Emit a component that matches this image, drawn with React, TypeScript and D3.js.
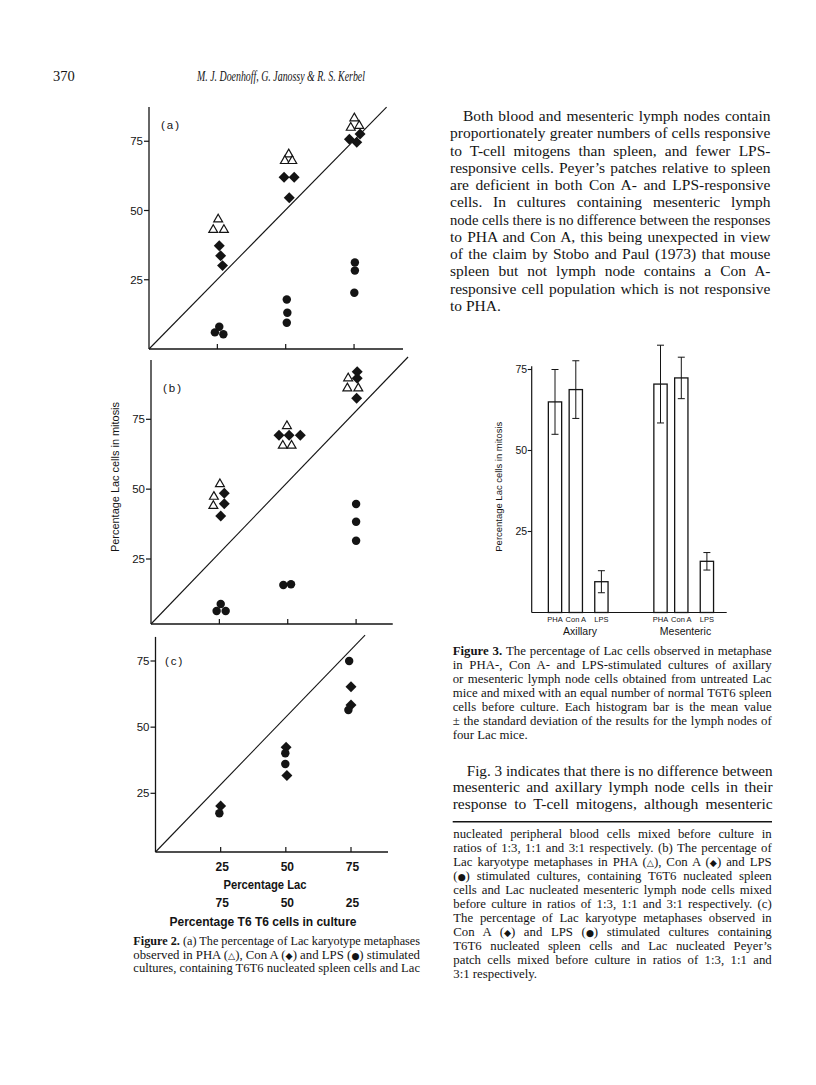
import React, { useLayoutEffect, useRef } from 'react';
import * as d3 from 'd3';

type Pt = [number, number];

// ---------------- Figure 2 data (x = percentage Lac, y = % Lac cells in mitosis)
const lacLevels = [25, 50, 75];
const t6Levels = [75, 50, 25];
const fig2YTicks = [25, 50, 75];

const aPHA: Pt[] = [[25.3, 46.8], [23.5, 43], [27.4, 43], [51.1, 70.3], [49.7, 67.9], [52.4, 67.9], [75.1, 83.3], [73.8, 79.9], [76.9, 80.6]];
const aConA: Pt[] = [[25.7, 37.3], [26.2, 33.7], [26.9, 30.1], [49.4, 62], [53.1, 62], [51.3, 54.6], [73.3, 75.7], [76, 74.6], [77.2, 77.6]];
const aLPS: Pt[] = [[24.1, 6], [25.7, 8], [27.2, 5.3], [50.4, 17.9], [50.6, 13.1], [50.4, 9.5], [75.3, 31.2], [75.3, 28.3], [75.1, 20.3]];

const bPHA: Pt[] = [[25.2, 51.8], [23, 47.3], [22.8, 44], [49.7, 72.6], [48.2, 65.6], [51.4, 65.6], [72.1, 89.7], [71.8, 86.1], [75.8, 86.1]];
const bConA: Pt[] = [[26.8, 48.5], [26.8, 44.8], [25.5, 40.4], [46.8, 69.3], [50.5, 69.3], [54.6, 69.3], [75.4, 92], [75.4, 89.7], [75.2, 82.5]];
const bLPS: Pt[] = [[25.5, 7.7], [24, 5], [27.3, 5], [48.4, 15], [51.2, 15.3], [75, 44.7], [75, 38.3], [75, 31.5]];

const cPHA: Pt[] = [];
const cConA: Pt[] = [[25, 19.6], [50.1, 42.4], [50.4, 31.7], [75, 65.3], [75, 58.4]];
const cLPS: Pt[] = [[24.5, 16.5], [49.8, 40.1], [49.8, 36.1], [74.3, 75], [74, 56.5]];

const panelLabels = ['(a)', '(b)', '(c)'];
const diagonalEnds: Pt[] = [[86.9, 87.3], [94, 97.3], [80.4, 84.8]];
const axisMaxX = [92.9, 88.4, 89.2];
const axisMaxY = [87.4, 96.2, 84.1];

// ---------------- Figure 3 data
const fig3Groups = ['Axillary', 'Mesenteric'];
const fig3Cats = ['PHA', 'Con A', 'LPS'];
const axillaryMean = [65, 68.8, 9.5];
const axillarySD = [10, 8.9, 3.4];
const mesentericMean = [70.5, 72.4, 15.8];
const mesentericSD = [12, 6.4, 2.7];
const fig3YTicks = [25, 50, 75];

// ---------------- text
const para1 = [
  'Both blood and mesenteric lymph nodes contain',
  'proportionately greater numbers of cells responsive',
  'to T-cell mitogens than spleen, and fewer LPS-',
  'responsive cells. Peyer\u2019s patches relative to spleen',
  'are deficient in both Con A- and LPS-responsive',
  'cells. In cultures containing mesenteric lymph',
  'node cells there is no difference between the responses',
  'to PHA and Con A, this being unexpected in view',
  'of the claim by Stobo and Paul (1973) that mouse',
  'spleen but not lymph node contains a Con A-',
  'responsive cell population which is not responsive',
  'to PHA.',
];
const fig3Caption = [
  'The percentage of Lac cells observed in metaphase',
  'in PHA-, Con A- and LPS-stimulated cultures of axillary',
  'or mesenteric lymph node cells obtained from untreated Lac',
  'mice and mixed with an equal number of normal T6T6 spleen',
  'cells before culture. Each histogram bar is the mean value',
  '\u00b1 the standard deviation of the results for the lymph nodes of',
  'four Lac mice.',
];
const para2 = [
  'Fig. 3 indicates that there is no difference between',
  'mesenteric and axillary lymph node cells in their',
  'response to T-cell mitogens, although mesenteric',
];
const TRI = '\u25b3';
const DIA = '\u25c6';
const DOT = '\u25cf';
const fig2CaptionA = [
  '(a) The percentage of Lac karyotype metaphases',
  `observed in PHA (${TRI}), Con A (${DIA}) and LPS (${DOT}) stimulated`,
  'cultures, containing T6T6 nucleated spleen cells and Lac',
];
const fig2CaptionB = [
  'nucleated peripheral blood cells mixed before culture in',
  'ratios of 1:3, 1:1 and 3:1 respectively. (b) The percentage of',
  `Lac karyotype metaphases in PHA (${TRI}), Con A (${DIA}) and LPS`,
  `(${DOT}) stimulated cultures, containing T6T6 nucleated spleen`,
  'cells and Lac nucleated mesenteric lymph node cells mixed',
  'before culture in ratios of 1:3, 1:1 and 3:1 respectively. (c)',
  'The percentage of Lac karyotype metaphases observed in',
  `Con A (${DIA}) and LPS (${DOT}) stimulated cultures containing`,
  'T6T6 nucleated spleen cells and Lac nucleated Peyer\u2019s',
  'patch cells mixed before culture in ratios of 1:3, 1:1 and',
  '3:1 respectively.',
];

// ---------------- layout
const SERIF = '"Liberation Serif", "Times New Roman", serif';
const SANS = '"Liberation Sans", Arial, sans-serif';
const INK = '#141414';
const BODY = 15.5;
const CAP = 12.8;

const panelLayout = [
  { xRange: [149, 354.05], yDomain: [0, 75], yRange: [349, 141.25], labelX: 161, labelY: 129 },
  { xRange: [151, 356.1], yDomain: [0, 25, 75], yRange: [624, 559, 419.3], labelX: 163, labelY: 392 },
  { xRange: [155.5, 351], yDomain: [0, 25, 75], yRange: [852, 793.3, 661], labelX: 165, labelY: 665 },
];

const triPath = d3.symbol(d3.symbolTriangle, 34)() as string;
const diaPath = d3.symbol(d3.symbolSquare, 60)() as string;
const dotPath = d3.symbol(d3.symbolCircle, 56)() as string;

function renderSyms(s: string, size: number) {
  const parts = s.split(/([\u25b3\u25c6\u25cf])/);
  return parts.map((p, i) =>
    p === TRI || p === DIA || p === DOT ? (
      <tspan key={i} fontFamily='"DejaVu Sans", sans-serif' fontSize={size * 0.72}>{p}</tspan>
    ) : (
      <tspan key={i}>{p}</tspan>
    )
  );
}

// justified line: word-spacing is computed after layout
function TLine(props: { x: number; y: number; w?: number; size: number; text: string; bold?: string }) {
  const { x, y, w, size, text, bold } = props;
  return (
    <text x={x} y={y} fontFamily={SERIF} fontSize={size} fill={INK} data-w={w ? String(w) : undefined}>
      {bold ? <tspan fontWeight="bold">{bold} </tspan> : null}
      {renderSyms(text, size)}
    </text>
  );
}

function Panel({ i, pha, conA, lps }: { i: number; pha: Pt[]; conA: Pt[]; lps: Pt[] }) {
  const L = panelLayout[i];
  const x = d3.scaleLinear().domain([0, 75]).range(L.xRange);
  const y = d3.scaleLinear().domain(L.yDomain).range(L.yRange);
  const x0 = x(0);
  const y0 = y(0);
  const diag = d3.line<Pt>().x((d) => x(d[0])).y((d) => y(d[1]))([[0, 0], diagonalEnds[i]]) as string;
  return (
    <g>
      <line x1={x0} x2={x0} y1={y0} y2={y(axisMaxY[i])} stroke={INK} strokeWidth={1.3} />
      <line x1={x0} x2={x(axisMaxX[i])} y1={y0} y2={y0} stroke={INK} strokeWidth={1.3} />
      {fig2YTicks.map((t) => (
        <g key={'y' + t}>
          <line x1={x0 - 5} x2={x0} y1={y(t)} y2={y(t)} stroke={INK} strokeWidth={1.2} />
          <text x={x0 - 6} y={y(t) + 4} textAnchor="end" fontFamily={SANS} fontSize={11.5} fill={INK}>{t}</text>
        </g>
      ))}
      {lacLevels.map((t) => (
        <line key={'x' + t} x1={x(t)} x2={x(t)} y1={y0} y2={y0 - 5} stroke={INK} strokeWidth={1.2} />
      ))}
      <path d={diag} stroke={INK} strokeWidth={1.1} fill="none" />
      <text x={L.labelX} y={L.labelY} fontFamily={SANS} fontSize={11.5} letterSpacing={2} fill={INK}>{panelLabels[i]}</text>
      {pha.map((d, k) => (
        <path key={'t' + k} d={triPath} transform={`translate(${x(d[0])},${y(d[1])})`} fill="#fff" stroke={INK} strokeWidth={1.2} />
      ))}
      {conA.map((d, k) => (
        <path key={'d' + k} d={diaPath} transform={`translate(${x(d[0])},${y(d[1])}) rotate(45)`} fill={INK} />
      ))}
      {lps.map((d, k) => (
        <path key={'c' + k} d={dotPath} transform={`translate(${x(d[0])},${y(d[1])})`} fill={INK} />
      ))}
    </g>
  );
}

function BarChart() {
  const by = d3.scaleLinear().domain([0, 75]).range([612.5, 369.5]);
  const gx = d3.scaleBand().domain(fig3Groups).range([540, 751]);
  const ix = d3.scaleOrdinal<string, number>().domain(fig3Cats).range([15, 35.8, 61.4]);
  const means = [axillaryMean, mesentericMean];
  const sds = [axillarySD, mesentericSD];
  const axX = 531.7;
  const bw = 13.3;
  return (
    <g>
      <line x1={axX} x2={axX} y1={by(0)} y2={by(76)} stroke={INK} strokeWidth={1.2} />
      <line x1={axX} x2={726.7} y1={by(0)} y2={by(0)} stroke={INK} strokeWidth={1.2} />
      {fig3YTicks.map((t) => (
        <g key={t}>
          <line x1={axX - 4} x2={axX} y1={by(t)} y2={by(t)} stroke={INK} strokeWidth={1.1} />
          <text x={axX - 4.5} y={by(t) + 3.8} textAnchor="end" fontFamily={SANS} fontSize={10.5} fill={INK}>{t}</text>
        </g>
      ))}
      <text
        transform={`translate(501.7,486.7) rotate(-90)`}
        textAnchor="middle"
        fontFamily={SANS}
        fontSize={9}
        fill={INK}
        textLength={130}
        lengthAdjust="spacingAndGlyphs"
      >
        Percentage Lac cells in mitosis
      </text>
      {fig3Groups.map((g, gi) => (
        <g key={g}>
          {fig3Cats.map((c, ci) => {
            const cx = (gx(g) as number) + ix(c);
            const m = means[gi][ci];
            const s = sds[gi][ci];
            return (
              <g key={c}>
                <rect x={cx - bw / 2} y={by(m)} width={bw} height={by(0) - by(m)} fill="#fff" stroke={INK} strokeWidth={1.3} />
                <line x1={cx} x2={cx} y1={by(m + s)} y2={by(m - s)} stroke={INK} strokeWidth={1} />
                <line x1={cx - 3.5} x2={cx + 3.5} y1={by(m + s)} y2={by(m + s)} stroke={INK} strokeWidth={1} />
                <line x1={cx - 3.5} x2={cx + 3.5} y1={by(m - s)} y2={by(m - s)} stroke={INK} strokeWidth={1} />
                <text x={cx} y={622} textAnchor="middle" fontFamily={SANS} fontSize={7.5} fill={INK}>{c}</text>
              </g>
            );
          })}
          <text x={(gx(g) as number) + 40} y={634.5} textAnchor="middle" fontFamily={SANS} fontSize={10.5} fill={INK}>{g}</text>
        </g>
      ))}
    </g>
  );
}

export default function App() {
  const svgRef = useRef<SVGSVGElement>(null);
  const lastC = panelLayout[2];
  const xc = d3.scaleLinear().domain([0, 75]).range(lastC.xRange);

  useLayoutEffect(() => {
    const svg = svgRef.current;
    if (!svg) return;
    svg.querySelectorAll('text[data-w]').forEach((node) => {
      const t = node as SVGTextElement;
      const target = parseFloat(t.getAttribute('data-w') || '0');
      t.removeAttribute('word-spacing');
      t.removeAttribute('textLength');
      const natural = t.getComputedTextLength();
      const spaces = (t.textContent || '').split(' ').length - 1;
      const extra = target - natural;
      if (extra >= 0 && spaces > 0) {
        t.setAttribute('word-spacing', String(extra / spaces));
      } else {
        t.setAttribute('textLength', String(target));
        t.setAttribute('lengthAdjust', 'spacingAndGlyphs');
      }
    });
  });

  return (
    <div style={{ position: 'absolute', left: 0, top: 0 }}>
      <svg ref={svgRef} width={816} height={1085} style={{ display: 'block', background: '#fff' }}>
        {/* header */}
        <text x={53} y={81} fontFamily={SERIF} fontSize={14.5} fill={INK}>370</text>
        <text x={197} y={81} fontFamily={SERIF} fontSize={14.5} fontStyle="italic" fill={INK} textLength={168} lengthAdjust="spacingAndGlyphs">
          M. J. Doenhoff, G. Janossy &amp; R. S. Kerbel
        </text>

        {/* Figure 2 */}
        <Panel i={0} pha={aPHA} conA={aConA} lps={aLPS} />
        <Panel i={1} pha={bPHA} conA={bConA} lps={bLPS} />
        <Panel i={2} pha={cPHA} conA={cConA} lps={cLPS} />
        <text
          transform="translate(119.3,477) rotate(-90)"
          textAnchor="middle"
          fontFamily={SANS}
          fontSize={10.5}
          fill={INK}
          textLength={150}
          lengthAdjust="spacingAndGlyphs"
        >
          Percentage Lac cells in mitosis
        </text>
        {lacLevels.map((t) => (
          <text key={'l' + t} x={xc(t) + 1.5} y={870.5} textAnchor="middle" fontFamily={SANS} fontSize={12} fontWeight={600} fill={INK}>{t}</text>
        ))}
        <text x={265} y={888.5} textAnchor="middle" fontFamily={SANS} fontSize={12} fontWeight={600} fill={INK} textLength={83} lengthAdjust="spacingAndGlyphs">Percentage Lac</text>
        {lacLevels.map((t, k) => (
          <text key={'t' + t} x={xc(t) + 1.5} y={906.5} textAnchor="middle" fontFamily={SANS} fontSize={12} fontWeight={600} fill={INK}>{t6Levels[k]}</text>
        ))}
        <text x={263} y={925.5} textAnchor="middle" fontFamily={SANS} fontSize={12} fontWeight={600} fill={INK} textLength={187} lengthAdjust="spacingAndGlyphs">Percentage T6 T6 cells in culture</text>

        {fig2CaptionA.map((s, k) => (
          <TLine key={'f2a' + k} x={133.3} y={945 + k * 13.5} w={286.7} size={CAP} text={s} bold={k === 0 ? 'Figure 2.' : undefined} />
        ))}

        {/* right column text */}
        {para1.map((s, k) => (
          <TLine
            key={'p1' + k}
            x={k === 0 ? 463 : 450}
            y={121 + k * 17.27}
            w={k === para1.length - 1 ? undefined : k === 0 ? 307.5 : 320.5}
            size={BODY}
            text={s}
          />
        ))}

        {/* Figure 3 */}
        <BarChart />
        {fig3Caption.map((s, k) => (
          <TLine
            key={'f3' + k}
            x={452.7}
            y={655 + k * 14}
            w={k === fig3Caption.length - 1 ? undefined : 319}
            size={CAP}
            text={s}
            bold={k === 0 ? 'Figure 3.' : undefined}
          />
        ))}
        {para2.map((s, k) => (
          <TLine key={'p2' + k} x={k === 0 ? 466.7 : 452.7} y={775.5 + k * 16.7} w={k === 0 ? 306 : 320} size={BODY} text={s} />
        ))}
        <line x1={452.7} x2={772} y1={821.7} y2={821.7} stroke={INK} strokeWidth={1.6} />
        {fig2CaptionB.map((s, k) => (
          <TLine
            key={'f2b' + k}
            x={453.3}
            y={837.7 + k * 14}
            w={k === fig2CaptionB.length - 1 ? undefined : 318.4}
            size={CAP}
            text={s}
          />
        ))}
      </svg>
    </div>
  );
}
